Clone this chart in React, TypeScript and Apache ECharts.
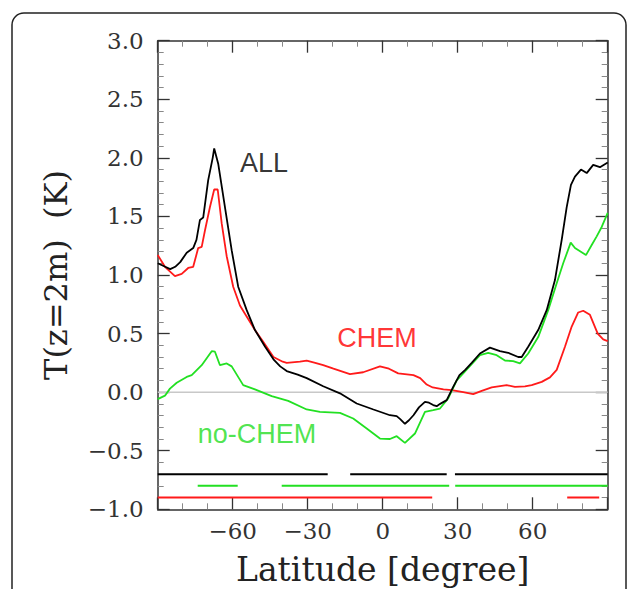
import React, { useEffect, useRef } from "react";
import * as echarts from "echarts";

// ALL (black)
const allLat = [-90, -87, -85, -83, -81, -78.4, -75.8, -74.5, -73.1, -71.8, -69.8, -68, -67.4, -65.8, -63.1, -60.4, -57.8, -54.4, -51.1, -47.1, -43.7, -41, -38.4, -34, -30.4, -23.8, -17.1, -10.4, -3.7, 2.9, 5.6, 7, 8.9, 10.5, 12.3, 14.5, 16.9, 18.5, 20.2, 21.6, 23, 25.6, 28.2, 30.7, 33, 35.6, 38.9, 42.9, 46.9, 50.2, 54.2, 55.6, 58.2, 62.2, 65.6, 68.9, 71.6, 73.6, 75.3, 76.9, 79.3, 81.6, 84.2, 86.9, 90];
const allVal = [1.1, 1.07, 1.05, 1.07, 1.11, 1.19, 1.23, 1.3, 1.47, 1.49, 1.81, 2.0, 2.08, 1.95, 1.58, 1.21, 0.9, 0.7, 0.53, 0.39, 0.28, 0.22, 0.18, 0.15, 0.12, 0.05, -0.01, -0.097, -0.148, -0.197, -0.205, -0.23, -0.27, -0.24, -0.197, -0.13, -0.083, -0.09, -0.11, -0.12, -0.1, -0.068, 0.045, 0.145, 0.19, 0.25, 0.33, 0.38, 0.35, 0.336, 0.3, 0.3, 0.387, 0.53, 0.7, 0.957, 1.3, 1.58, 1.77, 1.84, 1.9, 1.87, 1.94, 1.92, 1.96];

// CHEM (red)
const chemLat = [-90, -87.1, -83.1, -80.4, -77.8, -75.8, -73.8, -72.4, -71.1, -69.1, -67.4, -66, -64.4, -62.4, -59.8, -57.1, -55.1, -51.1, -47.8, -43.7, -40, -38.4, -33.1, -30.4, -27, -23.8, -19.7, -13.1, -7.8, -1.1, 2.5, 6.2, 12.3, 15, 17.6, 20, 24.3, 27.6, 32.2, 36.2, 39.6, 43.6, 49.6, 52.9, 56.9, 59.6, 63.6, 66.9, 69.6, 72.9, 75.6, 78.2, 80.2, 82.9, 86, 88.2, 90];
const chemVal = [1.17, 1.07, 0.99, 1.01, 1.06, 1.07, 1.23, 1.24, 1.38, 1.58, 1.73, 1.73, 1.44, 1.16, 0.9, 0.74, 0.67, 0.53, 0.43, 0.3, 0.26, 0.25, 0.26, 0.27, 0.25, 0.23, 0.2, 0.154, 0.17, 0.22, 0.2, 0.16, 0.145, 0.12, 0.065, 0.04, 0.023, 0.017, 0.0, -0.017, 0.011, 0.04, 0.06, 0.045, 0.05, 0.06, 0.088, 0.126, 0.19, 0.387, 0.56, 0.68, 0.695, 0.66, 0.5, 0.45, 0.436];

// no-CHEM (green)
const noChemLat = [-90, -87.1, -85.1, -82.4, -78.4, -76.4, -72.4, -68.4, -67.1, -65.1, -62.4, -60.4, -55.8, -51.1, -44.4, -37.8, -30.4, -25.1, -17.1, -11.8, -6.4, -1.1, 2.9, 5.6, 8.9, 12.9, 16.9, 20.2, 22.9, 26.2, 29.6, 32.2, 35.6, 38.9, 42.2, 45.6, 48.9, 52.2, 54.9, 58.2, 62.2, 66.2, 69.6, 72.2, 75.2, 76.9, 81.3, 83.6, 85.6, 87.6, 90];
const noChemVal = [-0.06, -0.03, 0.03, 0.08, 0.13, 0.145, 0.23, 0.35, 0.345, 0.23, 0.245, 0.22, 0.06, 0.023, -0.034, -0.075, -0.148, -0.168, -0.177, -0.225, -0.31, -0.396, -0.4, -0.376, -0.433, -0.353, -0.168, -0.154, -0.14, -0.054, 0.1, 0.16, 0.24, 0.316, 0.336, 0.316, 0.27, 0.265, 0.245, 0.33, 0.47, 0.7, 0.93, 1.1, 1.276, 1.23, 1.17, 1.256, 1.33, 1.41, 1.53];

// Significance segments [start, end] latitudes
const allSig = [[-90, -22], [-13, 25.6], [28.9, 90]];
const noChemSig = [[-74, -58], [-40.4, 26.6], [29, 90]];
const chemSig = [[-90, 19.8], [73.8, 86.6]];
const sigLevels = { all: -0.7, noChem: -0.8, chem: -0.9 };

const xTicks = { min: -90, max: 90, interval: 30 };
const yTicks = { min: -1, max: 3, interval: 0.5 };

const labels = [
  { text: "ALL", lat: -47.5, val: 1.96, color: "#000000" },
  { text: "CHEM", lat: -2.3, val: 0.46, color: "#ff0000" },
  { text: "no-CHEM", lat: -50.3, val: -0.355, color: "#22dd22" },
];

const BLACK = "#000000";
const RED = "#ff1a1a";
const GREEN = "#22e022";

function pairs(xs: number[], ys: number[]) {
  return xs.map((x, i) => [x, ys[i]]);
}
function segData(segs: number[][], level: number) {
  const out: any[] = [];
  segs.forEach((s, i) => {
    if (i > 0) out.push([(segs[i - 1][1] + s[0]) / 2, "-"]);
    out.push([s[0], level]);
    out.push([s[1], level]);
  });
  return out;
}
const minus = (s: string) => s.replace("-", "\u2212");

export default function App() {
  const ref = useRef<HTMLDivElement>(null);
  useEffect(() => {
    if (!ref.current) return;
    const chart = echarts.init(ref.current, undefined, { renderer: "svg" });
    const tickFont = { fontFamily: "DejaVu Serif", fontSize: 23, color: "#333" };
    const axisCommon = (pos: string, showLabels: boolean, isX: boolean) => ({
      type: "value",
      position: pos,
      min: isX ? xTicks.min : yTicks.min,
      max: isX ? xTicks.max : yTicks.max,
      interval: isX ? xTicks.interval : yTicks.interval,
      splitLine: { show: false },
      axisLine: { show: true, onZero: false, lineStyle: { color: "#333", width: 1.5 } },
      axisTick: { show: true, inside: true, length: 12, lineStyle: { color: "#333", width: 1.3 } },
      minorTick: { show: true, splitNumber: isX ? 3 : 5, length: 6, lineStyle: { color: "#888", width: 1 } },
      axisLabel: showLabels
        ? {
            ...tickFont,
            margin: isX ? 10 : 14,
            showMinLabel: !isX,
            showMaxLabel: !isX,
            formatter: (v: number) =>
              isX ? (Math.abs(v) === 90 ? "" : minus(String(v))) : minus(v.toFixed(1)),
          }
        : { show: false },
    });
    chart.setOption({
      animation: false,
      grid: { left: 157.7, top: 40.7, right: 21.3, bottom: 79.7, containLabel: false, outerBoundsMode: "none" },
      xAxis: [
        {
          ...axisCommon("bottom", true, true),
          name: "Latitude [degree]",
          nameLocation: "middle",
          nameGap: 44,
          nameTextStyle: { fontFamily: "DejaVu Serif", fontSize: 33, color: "#222" },
        },
        axisCommon("top", false, true),
      ],
      yAxis: [
        {
          ...axisCommon("left", true, false),
          name: "T(z=2m)  (K)",
          nameLocation: "middle",
          nameRotate: 90,
          nameGap: 86,
          nameTextStyle: { fontFamily: "DejaVu Serif", fontSize: 32, color: "#222" },
        },
        axisCommon("right", false, false),
      ],
      graphic: [
        {
          type: "rect",
          shape: { x: 12, y: 13, width: 614, height: 640, r: 12 },
          style: { fill: "none", stroke: "#222", lineWidth: 1.5 },
          silent: true,
        },
      ],
      series: [
        {
          type: "line",
          data: [[xTicks.min, 0], [xTicks.max, 0]],
          symbol: "none",
          lineStyle: { color: "#c8c8c8", width: 1.5 },
          silent: true,
        },
        { type: "line", data: pairs(chemLat, chemVal), symbol: "none", lineStyle: { color: RED, width: 1.8 } },
        { type: "line", data: pairs(noChemLat, noChemVal), symbol: "none", lineStyle: { color: GREEN, width: 1.8 } },
        { type: "line", data: pairs(allLat, allVal), symbol: "none", lineStyle: { color: BLACK, width: 1.8 } },
        { type: "line", data: segData(allSig, sigLevels.all), symbol: "none", connectNulls: false, lineStyle: { color: BLACK, width: 2 } },
        { type: "line", data: segData(noChemSig, sigLevels.noChem), symbol: "none", connectNulls: false, lineStyle: { color: GREEN, width: 2 } },
        { type: "line", data: segData(chemSig, sigLevels.chem), symbol: "none", connectNulls: false, lineStyle: { color: RED, width: 2 } },
        {
          type: "scatter",
          symbolSize: 0,
          data: labels.map((l) => ({
            value: [l.lat, l.val],
            label: {
              show: true,
              position: "inside",
              formatter: l.text,
              color: l.color,
              fontFamily: "Liberation Sans",
              fontSize: 27,
            },
          })),
          silent: true,
        },
      ],
    });
    return () => chart.dispose();
  }, []);
  return (
    <div
      ref={ref}
      style={{ position: "fixed", left: 0, top: 0, width: 629, height: 589, background: "#fff" }}
    />
  );
}
